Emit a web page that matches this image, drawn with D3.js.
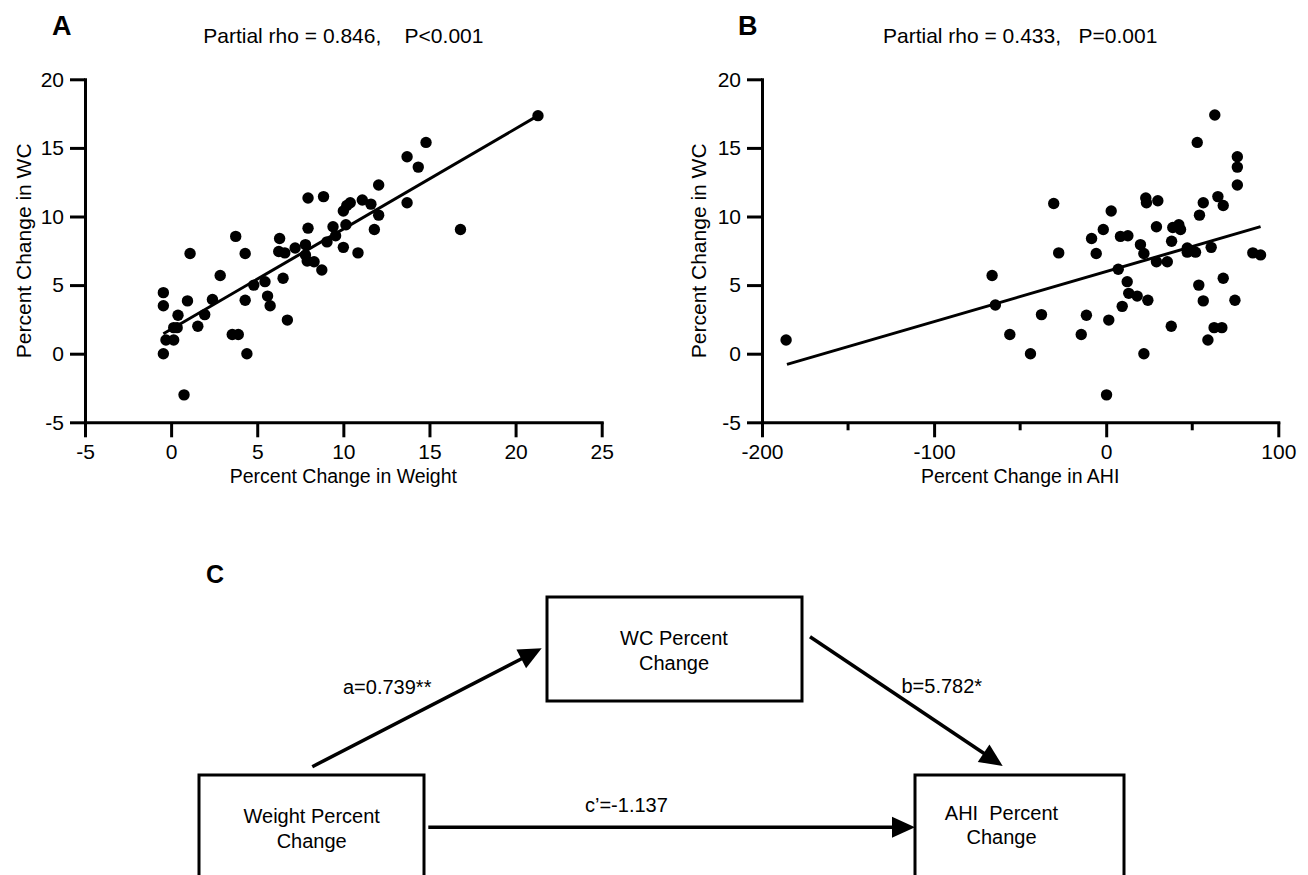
<!DOCTYPE html>
<html>
<head>
<meta charset="utf-8">
<script src="https://cdn.jsdelivr.net/npm/d3@7"></script>
<style>
  body { margin: 0; background: #fff; }
  svg text { font-family: "Liberation Sans", Arial, sans-serif; fill: #000; }
</style>
</head>
<body>
<div id="chart"></div>
<script>
// ---- data ----
// panel A: weight change vs waist circumference change
const weightPct = [14.8, 13.7, 14.35, 12.05, 7.95, 8.85, 13.7, 10.4, 10.2, 10.0, 11.1, 11.6, 12.05, 16.8, 11.8,
  7.95, 9.4, 10.15, 9.55, 9.05, 7.8, 6.3, 7.2, 6.25, 6.6, 10.0, 10.85, 7.9, 8.3, 8.75, 3.75, 1.1, 4.3, 2.85,
  5.45, 4.8, 6.5, -0.45, -0.45, 0.95, 2.4, 4.3, 5.6, 5.75, 0.4, 1.95, 0.15, 0.35, 1.55, 6.75, -0.3, 0.15,
  3.55, 3.9, -0.45, 4.4, 0.75, 21.3, 7.8];
const wcPctA = [15.4, 14.35, 13.6, 12.3, 11.35, 11.45, 11.0, 11.0, 10.8, 10.4, 11.2, 10.9, 10.1, 9.05, 9.05,
  9.15, 9.25, 9.4, 8.6, 8.15, 7.95, 8.4, 7.7, 7.45, 7.35, 7.75, 7.35, 6.75, 6.7, 6.1, 8.55, 7.3, 7.3, 5.7,
  5.25, 5.0, 5.5, 4.45, 3.5, 3.85, 3.95, 3.9, 4.2, 3.5, 2.8, 2.85, 1.9, 1.9, 2.0, 2.45, 1.0, 1.0,
  1.4, 1.4, 0.0, 0.0, -3.0, 17.35, 7.2];
const fitA_x = [-0.45, 21.3];
const fitA_y = [1.45, 17.35];

// panel B: AHI change vs waist circumference change
const ahiPct = [63.1, 52.9, 76.2, 76.2, 76.2, 64.9, 68.0, 56.4, 54.2, -30.5, 2.9, 23.0, 23.4, 30.0, -1.7,
  -8.5, 8.3, 12.6, 19.9, 21.9, 29.2, 38.7, 42.2, 43.2, 38.0, 47.1, 47.1, 51.9, 61.0, 85.2, 89.7, -27.6,
  -5.8, 29.2, 35.5, 7.0, -66.3, 12.2, 68.0, 53.8, -64.4, 13.1, 18.0, 24.2, 56.4, 74.8, -37.6, -11.5,
  9.3, 1.5, -56.0, -14.5, 37.8, 62.7, 67.2, 59.1, -44.0, 21.9, 0.2, -186.0];
const wcPctB = [17.4, 15.4, 14.35, 13.6, 12.3, 11.45, 10.8, 11.0, 10.1, 10.95, 10.4, 11.35, 11.0, 11.15, 9.05,
  8.4, 8.55, 8.6, 7.95, 7.3, 9.25, 9.2, 9.4, 9.05, 8.2, 7.7, 7.4, 7.4, 7.75, 7.35, 7.2, 7.35,
  7.3, 6.7, 6.7, 6.15, 5.7, 5.25, 5.5, 5.0, 3.55, 4.4, 4.2, 3.9, 3.85, 3.9, 2.85, 2.8,
  3.45, 2.45, 1.4, 1.4, 2.0, 1.9, 1.9, 1.0, 0.0, 0.0, -3.0, 1.0];
const fitB_x = [-185.5, 89.7];
const fitB_y = [-0.78, 9.26];

const yTicks = [-5, 0, 5, 10, 15, 20];
const xTicksA = [-5, 0, 5, 10, 15, 20, 25];
const xTicksB = [-200, -100, 0, 100];
const xMinorB = [-150, -50, 50];

// panel C: mediation model
const nodeLabels = {
  x: ["Weight Percent", "Change"],
  m: ["WC Percent", "Change"],
  y: ["AHI  Percent", "Change"]
};
const pathLabels = { a: "a=0.739**", b: "b=5.782*", c: "c\u2019=-1.137" };

// ---- drawing ----
const FONT = 21;
const svg = d3.select("#chart").append("svg")
  .attr("width", 1308)
  .attr("height", 875);

function scatterPanel(opt) {
  const x = d3.scaleLinear().domain(opt.xDomain).range(opt.xRange);
  const y = d3.scaleLinear().domain([-5, 20]).range([422.3, 79.3]);
  const g = svg.append("g");

  // x axis (plain hyphen for negatives, like the original)
  const xa = g.append("g")
    .attr("transform", `translate(0,${y(-5)})`)
    .call(d3.axisBottom(x).tickValues(opt.xTicks).tickSize(15).tickSizeOuter(0).tickPadding(7)
      .tickFormat(d => String(d)));
  if (opt.minor) {
    xa.selectAll(".minor").data(opt.minor).join("line")
      .attr("x1", d => x(d)).attr("x2", d => x(d))
      .attr("y1", 0).attr("y2", 8)
      .attr("stroke", "#000").attr("stroke-width", 3);
  }
  // y axis
  const ya = g.append("g")
    .attr("transform", `translate(${x(opt.xDomain[0])},0)`)
    .call(d3.axisLeft(y).tickValues(yTicks).tickSize(15).tickSizeOuter(0).tickPadding(6)
      .tickFormat(d => String(d)));

  [xa, ya].forEach(a => {
    a.select(".domain").attr("stroke-width", 3).attr("stroke-linecap", "square");
    a.selectAll(".tick line").attr("stroke-width", 3);
    a.selectAll(".tick text").attr("font-size", FONT).attr("font-family", "Liberation Sans, Arial, sans-serif");
  });

  // fit line
  g.append("path")
    .datum(d3.zip(opt.fitX, opt.fitY))
    .attr("fill", "none")
    .attr("stroke", "#000")
    .attr("stroke-width", 3)
    .attr("d", d3.line().x(d => x(d[0])).y(d => y(d[1])));

  // points
  g.selectAll("circle").data(d3.zip(opt.xs, opt.ys)).join("circle")
    .attr("cx", d => x(d[0]))
    .attr("cy", d => y(d[1]))
    .attr("r", 5.7)
    .attr("fill", "#000");

  const cx = (opt.xRange[0] + opt.xRange[1]) / 2;
  g.append("text")
    .attr("x", cx).attr("y", 43)
    .attr("text-anchor", "middle")
    .attr("font-size", FONT)
    .style("white-space", "pre")
    .text(opt.title);
  g.append("text")
    .attr("x", opt.letterX).attr("y", 35)
    .attr("font-size", 27).attr("font-weight", "bold")
    .text(opt.letter);
  g.append("text")
    .attr("x", cx).attr("y", 483)
    .attr("text-anchor", "middle")
    .attr("font-size", 19.5)
    .text(opt.xLabel);
  g.append("text")
    .attr("transform", `translate(${opt.yLabelX},250.8) rotate(-90)`)
    .attr("text-anchor", "middle")
    .attr("font-size", FONT)
    .text("Percent Change in WC");
}

scatterPanel({
  xDomain: [-5, 25], xRange: [85, 601.7], xTicks: xTicksA,
  xs: weightPct, ys: wcPctA, fitX: fitA_x, fitY: fitA_y,
  title: "Partial rho = 0.846,    P<0.001", letter: "A", letterX: 52,
  xLabel: "Percent Change in Weight", yLabelX: 31
});
scatterPanel({
  xDomain: [-200, 100], xRange: [762, 1278.3], xTicks: xTicksB, minor: xMinorB,
  xs: ahiPct, ys: wcPctB, fitX: fitB_x, fitY: fitB_y,
  title: "Partial rho = 0.433,   P=0.001", letter: "B", letterX: 738,
  xLabel: "Percent Change in AHI", yLabelX: 706
});

// ---- panel C diagram ----
const c = svg.append("g");
c.append("text").attr("x", 206).attr("y", 583)
  .attr("font-size", 25).attr("font-weight", "bold").text("C");

const boxes = {
  x: { x0: 199, y0: 775, x1: 424, y1: 900, tx: 311.7, ty: [823, 848] },
  m: { x0: 547, y0: 597, x1: 802, y1: 701, tx: 674, ty: [645, 670] },
  y: { x0: 915, y0: 775, x1: 1124, y1: 900, tx: 1001.5, ty: [820, 844] }
};
Object.keys(boxes).forEach(k => {
  const b = boxes[k];
  c.append("rect")
    .attr("x", b.x0).attr("y", b.y0)
    .attr("width", b.x1 - b.x0).attr("height", b.y1 - b.y0)
    .attr("fill", "none").attr("stroke", "#000").attr("stroke-width", 3);
  nodeLabels[k].forEach((t, i) => {
    c.append("text")
      .attr("x", b.tx).attr("y", b.ty[i])
      .attr("text-anchor", "middle")
      .attr("font-size", 20)
      .style("white-space", "pre")
      .text(t);
  });
});

function arrow(p0, p1) {
  const dx = p1[0] - p0[0], dy = p1[1] - p0[1];
  const len = Math.hypot(dx, dy);
  const ux = dx / len, uy = dy / len;
  const hl = 23, hw = 10.5;
  const bx = p1[0] - ux * hl, by = p1[1] - uy * hl;
  c.append("line")
    .attr("x1", p0[0]).attr("y1", p0[1])
    .attr("x2", bx + ux * 2).attr("y2", by + uy * 2)
    .attr("stroke", "#000").attr("stroke-width", 3.5);
  c.append("path")
    .attr("d", `M${p1[0]},${p1[1]}L${bx - uy * hw},${by + ux * hw}L${bx + uy * hw},${by - ux * hw}Z`)
    .attr("fill", "#000");
}
arrow([312.3, 766.7], [541.7, 648.3]);
arrow([810, 636.7], [1002.7, 766]);
arrow([428.3, 827.3], [915, 827.3]);

[["a", 343, 694], ["b", 901.5, 693], ["c", 585, 812]].forEach(([k, x, y]) => {
  c.append("text").attr("x", x).attr("y", y)
    .attr("font-size", 20)
    .text(pathLabels[k]);
});
</script>
</body>
</html>
